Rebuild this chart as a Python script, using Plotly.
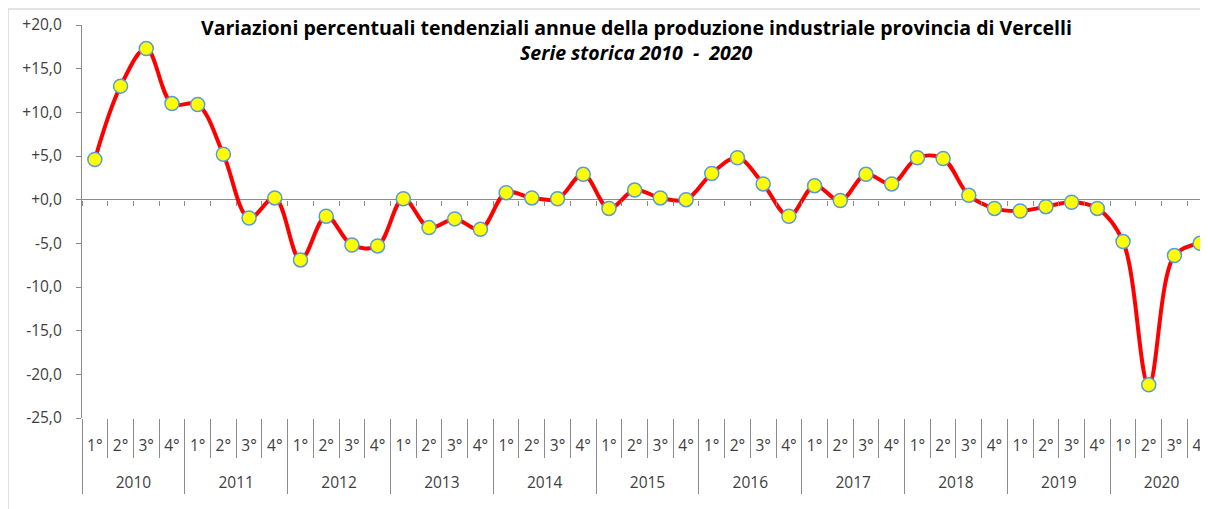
import plotly.graph_objects as go

years = ["2010", "2011", "2012", "2013", "2014", "2015", "2016", "2017", "2018", "2019", "2020"]
quarters = ["1°", "2°", "3°", "4°"]
values = [
    4.6, 13.0, 17.3, 11.0,
    10.9, 5.2, -2.1, 0.2,
    -6.9, -1.9, -5.2, -5.3,
    0.1, -3.2, -2.2, -3.4,
    0.8, 0.2, 0.1, 2.9,
    -1.0, 1.1, 0.2, 0.0,
    3.0, 4.8, 1.8, -1.9,
    1.6, -0.1, 2.9, 1.8,
    4.8, 4.7, 0.5, -1.0,
    -1.3, -0.8, -0.3, -1.0,
    -4.8, -21.2, -6.4, -5.0,
]
y_ticks = [20, 15, 10, 5, 0, -5, -10, -15, -20, -25]
y_ticktext = ["+20,0", "+15,0", "+10,0", "+5,0", "+0,0", "-5,0", "-10,0", "-15,0", "-20,0", "-25,0"]
y_range = [-25, 20]

nq = len(quarters)
n = len(values)
idx = list(range(n))
x_range = [-0.5, n - 0.5]
quarter_text = [quarters[i % nq] for i in idx]
year_centers = [k * nq + (nq - 1) / 2 for k in range(len(years))]
quarter_bounds = [i - 0.5 for i in range(n + 1)]
year_bounds = [k * nq - 0.5 for k in range(len(years) + 1)]

FONT = "Open Sans"
AX = "#8c8c8c"
TXT = "#404040"

fig = go.Figure()
fig.add_trace(go.Scatter(
    x=idx, y=values,
    mode="lines+markers",
    line=dict(color="#ff0000", width=4, shape="spline", smoothing=1.0),
    marker=dict(size=14, color="#ffff00", line=dict(color="#5b9bd5", width=1.5)),
    showlegend=False, hovertemplate="%{y:+.1f}<extra></extra>",
))
# invisible helper traces so that every overlaid axis is drawn
for ax_id in ["x2", "x3", "x4", "x5"]:
    fig.add_trace(go.Scatter(
        x=idx, y=values, xaxis=ax_id, mode="markers",
        marker=dict(opacity=0), showlegend=False, hoverinfo="skip",
    ))

common = dict(range=x_range, showgrid=False, zeroline=False, showline=False, automargin=False)

fig.update_layout(
    width=1208, height=509,
    margin=dict(l=74, r=3, t=17, b=99),
    paper_bgcolor="white", plot_bgcolor="white",
    font=dict(family=FONT, size=15, color=TXT),
    # quarter labels
    xaxis=dict(
        **common, tickvals=idx, ticktext=quarter_text, ticks="",
        tickfont=dict(family=FONT, size=15.5, color=TXT), ticklabelstandoff=16,
    ),
    # ticks on the zero line
    xaxis2=dict(
        **common, overlaying="x", anchor="free",
        position=(0 - y_range[0]) / (y_range[1] - y_range[0]),
        tickvals=quarter_bounds, ticks="outside", ticklen=5,
        tickcolor=AX, tickwidth=1.3, showticklabels=False,
    ),
    # year labels
    xaxis3=dict(
        **common, overlaying="x", anchor="free", position=0,
        tickvals=year_centers, ticktext=years, ticks="",
        tickfont=dict(family=FONT, size=15.5, color=TXT), ticklabelstandoff=53,
    ),
    # quarter separators
    xaxis4=dict(
        **common, overlaying="x", anchor="free", position=0,
        tickvals=quarter_bounds, ticks="outside", ticklen=39,
        tickcolor=AX, tickwidth=1.3, showticklabels=False,
    ),
    # year separators
    xaxis5=dict(
        **common, overlaying="x", anchor="free", position=0,
        tickvals=year_bounds, ticks="outside", ticklen=75,
        tickcolor=AX, tickwidth=1.3, showticklabels=False,
    ),
    yaxis=dict(
        range=y_range, tickvals=y_ticks, ticktext=y_ticktext, automargin=False,
        showgrid=False, showline=True, linecolor=AX, linewidth=1.3,
        ticks="outside", ticklen=5, tickcolor=AX, tickwidth=1.3,
        zeroline=True, zerolinecolor=AX, zerolinewidth=1.3,
        tickfont=dict(family=FONT, size=15.5, color=TXT), ticklabelstandoff=11,
    ),
    annotations=[
        dict(xref="paper", yref="paper", x=0.4907, y=0.9949, xanchor="center", yanchor="middle",
             text="<b>Variazioni percentuali tendenziali annue della produzione industriale provincia di Vercelli</b>",
             showarrow=False, font=dict(family=FONT, size=19.5, color="#000000")),
        dict(xref="paper", yref="paper", x=0.4907, y=0.9288, xanchor="center", yanchor="middle",
             text="<b><i>Serie storica 2010  -  2020</i></b>",
             showarrow=False, font=dict(family=FONT, size=19.5, color="#000000")),
    ],
    shapes=[dict(
        type="rect", xref="paper", yref="paper", x0=-0.0654, x1=1.02, y0=-0.4, y1=1.0407,
        line=dict(color="#c8c8c8", width=1), layer="below",
    )],
)

fig.write_html("out.html")
